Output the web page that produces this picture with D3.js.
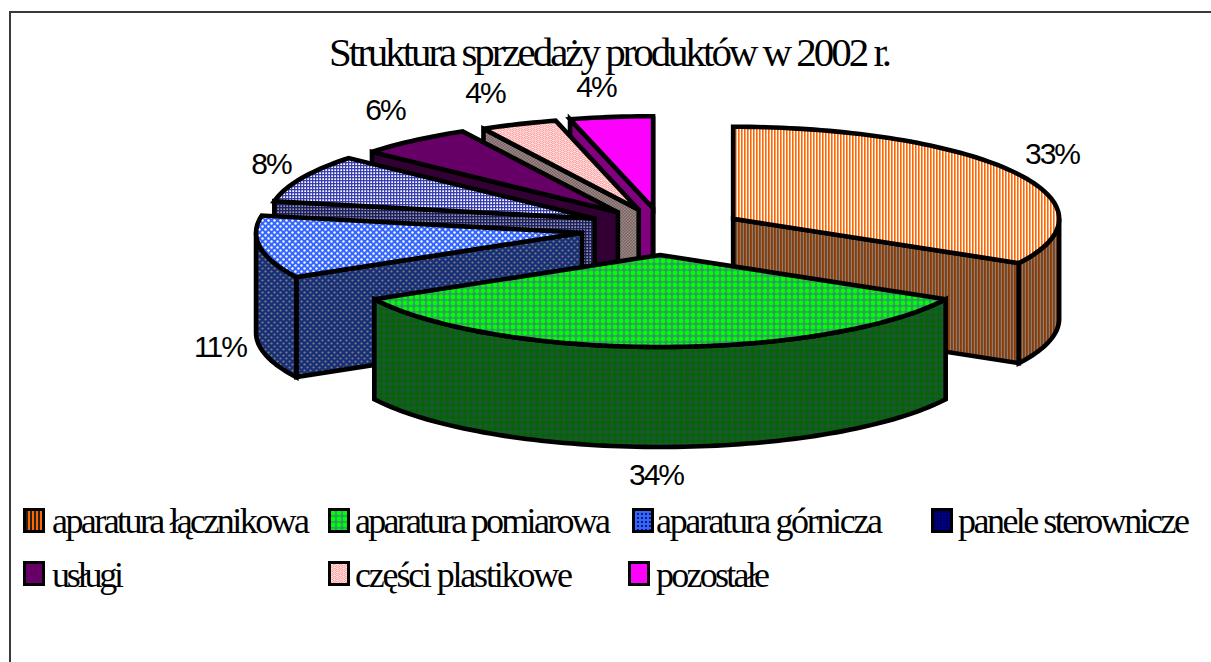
<!DOCTYPE html>
<html><head><meta charset="utf-8">
<script src="https://cdn.jsdelivr.net/npm/d3@7/dist/d3.min.js"></script>
<style>html,body{margin:0;padding:0;background:#fff}svg{display:block}</style>
</head><body><svg id="c" width="1211" height="662"></svg>
<script>
const titleText = "Struktura sprzedaży produktów w 2002 r.";
const categories = ["aparatura łącznikowa","aparatura pomiarowa","aparatura górnicza","panele sterownicze","usługi","części plastikowe","pozostałe"];
const values = [33.0,34.0,11.0,8.4,5.7,3.8,4.1];
const percentLabels = ["33%","34%","11%","8%","6%","4%","4%"];
const topFills = ["pOrange","pGreen","pBlue","pGrid","pPurple","pPink","pMagenta"];
const wallFills = ["wOrange","wGreen","wBlue","wGrid","wPurple","wPink","wMagenta"];

const svg = d3.select("#c");
const defs = svg.append("defs");
function pat(id,w,h,bg,draw){
  const p=defs.append("pattern").attr("id",id).attr("patternUnits","userSpaceOnUse").attr("width",w).attr("height",h);
  p.append("rect").attr("width",w).attr("height",h).attr("fill",bg);
  draw(p);
}
const r=(p,x,y,w,h,f)=>p.append("rect").attr("x",x).attr("y",y).attr("width",w).attr("height",h).attr("fill",f);
const dot=(p,x,y,rr,f)=>p.append("circle").attr("cx",x).attr("cy",y).attr("r",rr).attr("fill",f);
pat("pOrange",3,3,"#fff",p=>r(p,0,0,1.6,3,"#FF6600"));
pat("wOrange",3,3,"#808080",p=>r(p,0,0,1.8,3,"#8f3a00"));
pat("pGreen",6,6,"#339966",p=>dot(p,3,3,2.4,"#00FF00"));
pat("wGreen",6,6,"#1f5434",p=>dot(p,3,3,2.4,"#006600"));
pat("pBlue",6,6,"#3366FF",p=>{dot(p,1.5,1.5,1.2,"#fff");dot(p,4.5,4.5,1.2,"#fff");});
pat("wBlue",6,6,"#172f78",p=>{dot(p,1.5,1.5,1.1,"#808080");dot(p,4.5,4.5,1.1,"#808080");});
pat("pGrid",3,3,"#fff",p=>{r(p,0,0,1.3,3,"#3a3fb0");r(p,0,0,3,1.3,"#3a3fb0");});
pat("wGrid",3,3,"#9a9aa8",p=>{r(p,0,0,1.4,3,"#1c1f60");r(p,0,0,3,1.4,"#1c1f60");});
pat("pPurple",4,4,"#660066",p=>{});
pat("wPurple",4,4,"#330033",p=>{});
pat("pPink",6,4,"#FFE6E6",p=>{p.append("path").attr("d","M0 1 L1.5 2 L3 1 L4.5 0 L6 1 M0 3 L1.5 4 L3 3 L4.5 2 L6 3").attr("fill","none").attr("stroke","#FF8080").attr("stroke-width",0.8);});
pat("wPink",3,3,"#9a8a8a",p=>{r(p,0,0,1.5,1.5,"#7a6060");r(p,1.5,1.5,1.5,1.5,"#7a6060");});
pat("pMagenta",10,8,"#FF00FF",p=>{dot(p,2,2,0.8,"#C020E0");dot(p,7,6,0.8,"#C020E0");});
pat("wMagenta",4,4,"#800080",p=>{});
pat("lNavy",3,3,"#000050",p=>{r(p,0,0,1,3,"#000090");r(p,0,0,3,1,"#000090");});
pat("lOrange",4,4,"#222",p=>r(p,0,0,2,4,"#FF6600"));
pat("lBlue",4,4,"#3366FF",p=>dot(p,2,2,1,"#000040"));
pat("lGreen",6,6,"#339966",p=>dot(p,3,3,2.4,"#00FF00"));

// frame: top and left rules only
svg.append("path").attr("d","M10 662V12H1211").attr("fill","none").attr("stroke","#3a3a3a").attr("stroke-width",2);

// 3D pie geometry
const cx=660, cy=231, rx=326, ry=92, depth=100, explode=85/326;
const sliceNudge=[[0,0],[0,0],[6,-2],[11,-2],[11,0],[10,1],[4,1]];
const pie=d3.pie().sort(null).value(d=>d)(values);
function pt(a,c,dy=0){return [c[0]+rx*Math.sin(a), c[1]-ry*Math.cos(a)+dy];}
function arcPts(a0,a1,c,dy=0){const n=Math.max(2,Math.ceil((a1-a0)*40));return d3.range(n+1).map(i=>pt(a0+(a1-a0)*i/n,c,dy));}
const line=d3.line();
const slices=pie.map((d,i)=>{
  const m=(d.startAngle+d.endAngle)/2;
  const c=[cx+explode*rx*Math.sin(m)+sliceNudge[i][0], cy-explode*ry*Math.cos(m)+sliceNudge[i][1]];
  return {i,a0:d.startAngle,a1:d.endAngle,c};
});
const order=[6,5,4,3,2,0,1];
const g=svg.append("g").attr("stroke","#000").attr("stroke-width",4.6).attr("stroke-linejoin","miter").attr("stroke-miterlimit",3);
order.forEach(i=>{
  const s=slices[i], c=s.c;
  const wf=`url(#${wallFills[i]})`, tf=`url(#${topFills[i]})`;
  const radial=a=>line([c,pt(a,c),pt(a,c,depth),[c[0],c[1]+depth]])+"Z";
  if(Math.sin(s.a0)<0) g.append("path").attr("d",radial(s.a0)).attr("fill",wf);
  if(Math.sin(s.a1)>0) g.append("path").attr("d",radial(s.a1)).attr("fill",wf);
  const lo=Math.max(s.a0,Math.PI/2), hi=Math.min(s.a1,Math.PI*1.5);
  if(hi>lo){
    const top=arcPts(lo,hi,c), bot=arcPts(lo,hi,c,depth).reverse();
    g.append("path").attr("d",line(top.concat(bot))+"Z").attr("fill",wf);
  }
  g.append("path").attr("d",line([c].concat(arcPts(s.a0,s.a1,c)))+"Z").attr("fill",tf);
});

// title
svg.append("text").attr("x",329).attr("y",66).attr("font-family","Liberation Serif").attr("font-size",41)
  .attr("textLength",563).attr("lengthAdjust","spacing").attr("fill","#000").text(titleText);

// percent labels
const labelAnchor=[[1052,164],[656,485],[220,357],[271,174],[385,120],[485,103],[596,97]];
percentLabels.forEach((t,i)=>svg.append("text").attr("x",labelAnchor[i][0]).attr("y",labelAnchor[i][1])
  .attr("text-anchor","middle").attr("font-family","Liberation Sans").attr("font-size",30).attr("letter-spacing",-2).attr("fill","#000").text(t));

// legend
const swatchFill=["lOrange","lGreen","lBlue","lNavy","pPurple","pPink","pMagenta"];
const legendX=[23,328,632,931,23,328,628], legendTextX=[52,355,656,958,52,355,656], legendWidths=[258,256,227,232,72,218,114];
categories.forEach((t,i)=>{
  const x=legendX[i], first=i<4;
  svg.append("rect").attr("x",x+1.5).attr("y",first?509.5:562.5).attr("width",19).attr("height",22).attr("fill",`url(#${swatchFill[i]})`).attr("stroke","#000").attr("stroke-width",3);
  svg.append("text").attr("x",legendTextX[i]).attr("y",first?533:587).attr("font-family","Liberation Serif").attr("font-size",36)
    .attr("textLength",legendWidths[i]).attr("lengthAdjust","spacing").attr("fill","#000").text(t);
});
</script></body></html>
